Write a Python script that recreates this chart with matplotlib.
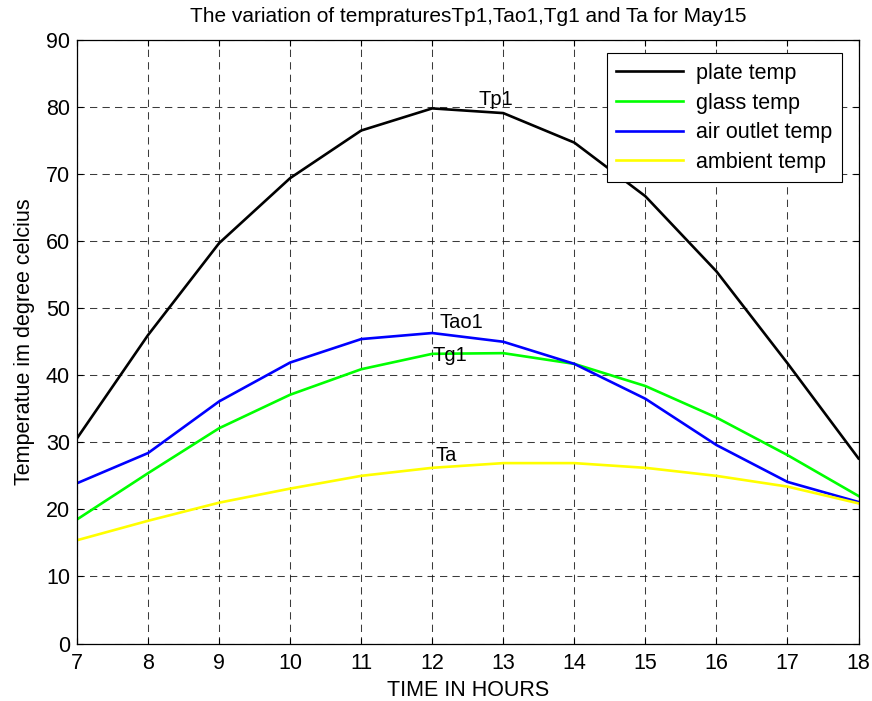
import matplotlib
matplotlib.use("Agg")
import matplotlib.pyplot as plt

plt.rcParams['font.family'] = ['Liberation Sans', 'DejaVu Sans']

hours = [7, 8, 9, 10, 11, 12, 13, 14, 15, 16, 17, 18]
plate_temp = [30.6, 46.0, 59.7, 69.4, 76.5, 79.8, 79.1, 74.7, 66.7, 55.5, 41.8, 27.6]
glass_temp = [18.5, 25.4, 32.1, 37.1, 40.9, 43.2, 43.3, 41.7, 38.4, 33.7, 28.1, 22.0]
air_outlet_temp = [23.9, 28.4, 36.1, 41.9, 45.4, 46.3, 45.0, 41.7, 36.5, 29.6, 24.1, 21.1]
ambient_temp = [15.4, 18.3, 21.0, 23.1, 25.0, 26.2, 26.9, 26.9, 26.2, 25.0, 23.4, 20.9]

fig = plt.figure(figsize=(8.72, 7.01), dpi=100)
ax = fig.add_axes([77 / 872, 1 - 643.5 / 701, (858.5 - 77) / 872, (643.5 - 40) / 701])

lw = 1.9
ax.plot(hours, plate_temp, color='black', lw=lw, label='plate temp')
ax.plot(hours, glass_temp, color='#00ff00', lw=lw, label='glass temp')
ax.plot(hours, air_outlet_temp, color='#0000ff', lw=lw, label='air outlet temp')
ax.plot(hours, ambient_temp, color='#ffff00', lw=lw, label='ambient temp')

fs = 15.5
fs_txt = 14.5
ax.text(12.65, 81.2, 'Tp1', fontsize=fs_txt, va='center', ha='left')
ax.text(12.1, 47.8, 'Tao1', fontsize=fs_txt, va='center', ha='left')
ax.text(12.0, 42.9, 'Tg1', fontsize=fs_txt, va='center', ha='left')
ax.text(12.05, 28.1, 'Ta', fontsize=fs_txt, va='center', ha='left')

ax.set_xlim(7, 18)
ax.set_ylim(0, 90)
ax.set_xticks(hours)
ax.set_yticks(range(0, 91, 10))
ax.tick_params(direction='in', length=4, width=0.8, labelsize=fs,
               top=True, right=True, pad=5)
ax.tick_params(axis='x', pad=7)
ax.grid(True, color='#1a1a1a', linestyle=(0, (7, 5)), linewidth=0.75, alpha=0.85)
for s in ax.spines.values():
    s.set_linewidth(0.9)

ax.set_title('The variation of tempraturesTp1,Tao1,Tg1 and Ta for May15',
             fontsize=15, pad=13)
ax.set_xlabel('TIME IN HOURS', fontsize=fs, labelpad=4)
ax.set_ylabel('Temperatue im degree celcius', fontsize=fs, labelpad=8)

leg = ax.legend(loc='upper right', bbox_to_anchor=(0.979, 0.978), fontsize=fs,
                fancybox=False, framealpha=1, edgecolor='black',
                handlelength=3.1, borderpad=0.45, labelspacing=0.4,
                handletextpad=0.6, borderaxespad=0)
leg.get_frame().set_linewidth(0.8)

fig.savefig('out.png', dpi=100)
